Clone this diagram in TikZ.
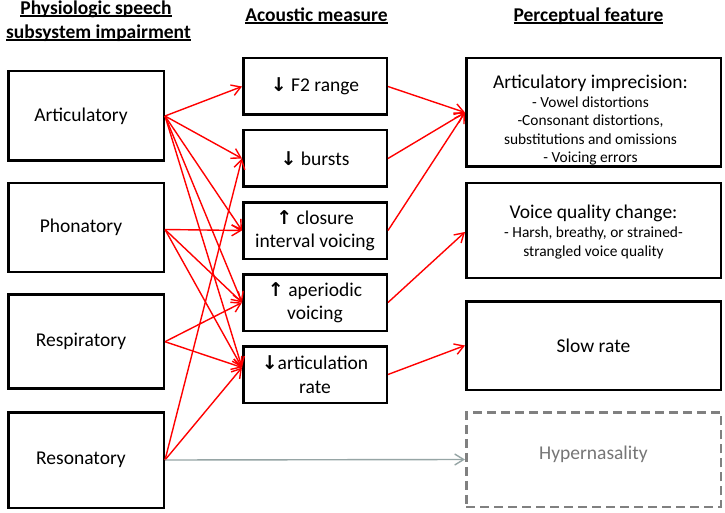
\documentclass[tikz,border=0pt]{standalone}
\usepackage{fontspec}
\setmainfont{Carlito}
\newfontfamily\arrfont{DejaVu Sans}
\usetikzlibrary{arrows.meta}
\newcommand\hdul[1]{\setbox0\hbox{#1}\rlap{\rule[-2.8pt]{\wd0}{1.8pt}}\box0}
\newcommand\dnar{{\arrfont\bfseries\fontsize{19}{20}\selectfont ↓}}
\newcommand\upar{{\arrfont\bfseries\fontsize{19}{20}\selectfont ↑}}
\definecolor{grayarrow}{RGB}{150,165,165}
\definecolor{dashgray}{RGB}{128,128,128}
\definecolor{txtgray}{RGB}{118,118,118}
\begin{document}
\begin{tikzpicture}[x=1pt,y=-1pt,
  bx/.style={draw=black,line width=2.5pt,inner sep=0pt,align=center,font=\fontsize{19.5}{23.4}\selectfont},
  lbox/.style={bx,minimum width=155.5pt},
  mbox/.style={bx,minimum width=143.5pt,minimum height=56.5pt},
  rbox/.style={bx,minimum width=254.5pt},
  hdr/.style={anchor=base,inner sep=0pt,font=\fontsize{19.5}{23.4}\selectfont\bfseries},
  subtxt/.style={align=center,inner sep=0pt,font=\fontsize{15.4}{18.3}\selectfont},
  ra/.style={draw=red,line width=1.4pt,-{Straight Barb[length=9pt,width=11pt]}},
  ga/.style={draw=grayarrow,line width=1.4pt,-{Straight Barb[length=9pt,width=11pt]}},
]
\useasboundingbox[fill=white] (0,0) rectangle (725,513);

% headers
\node[hdr] (h1a) at (96,14.5) {\hdul{Physiologic speech}};
\node[hdr] (h1b) at (98.5,38.5) {\hdul{subsystem impairment}};
\node[hdr] (h2) at (316.5,21.5) {\hdul{Acoustic measure}};
\node[hdr] (h3) at (588.5,21.5) {\hdul{Perceptual feature}};

% left column
\node[lbox,minimum height=89.5pt] (art) at (86,116) {\hspace*{-10pt}Articulatory};
\node[lbox,minimum height=88.5pt] (pho) at (86,227.5) {\hspace*{-10pt}Phonatory};
\node[lbox,minimum height=94pt] (res) at (86,341.7) {\hspace*{-10pt}Respiratory};
\node[lbox,minimum height=95.5pt] (rso) at (86,460) {\hspace*{-10pt}Resonatory};

% middle column
\node[mbox] (f2) at (315,86.5) {\dnar\ F2 range};
\node[mbox] (bu) at (315,158.5) {\dnar\ bursts};
\node[mbox] (cl) at (315,230.5) {\upar\ closure\\interval voicing};
\node[mbox] (ap) at (315,302.5) {\upar\ aperiodic\\voicing};
\node[mbox] (ar) at (315,374.5) {\dnar articulation\\rate};

% right column
\node[rbox,minimum height=108.5pt] (ai) at (593.5,112.5) {};
\node[subtxt] (aiT) at (590.5,120) {{\fontsize{19.5}{18.3}\selectfont Articulatory imprecision:}\\[1pt]- Vowel distortions\\-Consonant distortions,\\substitutions and omissions\\- Voicing errors};
\node[rbox,minimum height=94.5pt] (vq) at (593.5,230.5) {};
\node[subtxt] (vqT) at (593.5,232) {{\fontsize{19.5}{18.3}\selectfont Voice quality change:}\\[1pt]- Harsh, breathy, or strained-\\strangled voice quality};
\node[rbox,minimum height=88.5pt] (sr) at (593.5,345.5) {Slow rate};
\node[rbox,draw=dashgray,dash pattern=on 9pt off 5pt,minimum height=94.5pt,text=txtgray] (hy) at (593.5,459.5) {\smash{Hypernasality}};

% left -> middle
\draw[ra] (art.east) -- (f2.west);
\draw[ra] (art.east) -- (bu.west);
\draw[ra] (art.east) -- (cl.west);
\draw[ra] (art.east) -- (ap.west);
\draw[ra] (art.east) -- ([yshift=7pt]ar.west);
\draw[ra] ([yshift=-2pt]pho.east) -- (cl.west);
\draw[ra] ([yshift=-2pt]pho.east) -- (ap.west);
\draw[ra] ([yshift=-2pt]pho.east) -- ([yshift=7pt]ar.west);
\draw[ra] (res.east) -- (ap.west);
\draw[ra] (res.east) -- ([yshift=7pt]ar.west);
\draw[ra] (rso.east) -- (bu.west);
\draw[ra] (rso.east) -- ([yshift=7pt]ar.west);
\draw[ga] (rso.east) -- (hy.west);

% middle -> right
\draw[ra] (f2.east) -- (ai.west);
\draw[ra] (bu.east) -- (ai.west);
\draw[ra] (cl.east) -- (ai.west);
\draw[ra] (ap.east) -- ([yshift=-1.5pt]vq.west);
\draw[ra] (ar.east) -- (sr.west);
\end{tikzpicture}
\end{document}
